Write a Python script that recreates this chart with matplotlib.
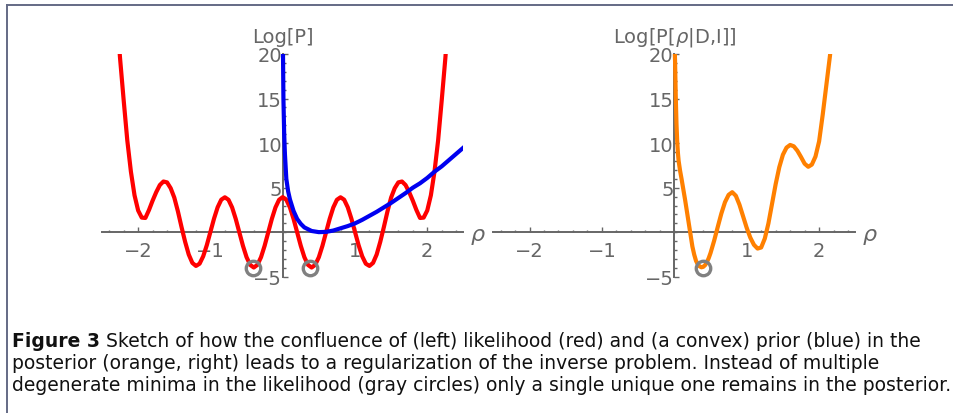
import matplotlib
matplotlib.use('Agg')
import matplotlib.pyplot as plt
from matplotlib.ticker import MultipleLocator
from matplotlib.lines import Line2D
import numpy as np

plt.rcParams['font.family'] = ['DejaVu Sans']
plt.rcParams['mathtext.fontset'] = 'custom'
plt.rcParams['mathtext.rm'] = 'DejaVu Sans'
plt.rcParams['mathtext.it'] = 'DejaVu Sans:italic'

# likelihood (red), sampled every 0.05 from -2.3 to 2.3
x_like = np.round(np.linspace(-2.3, 2.3, 93), 2)
y_like_half = [3.95, 3.65, 2.79, 1.51, 0.00, -1.51, -2.79, -3.65, -3.95, -3.65,
               -2.79, -1.51, 0.00, 1.51, 2.79, 3.65, 3.93, 3.66, 2.81, 1.54,
               0.05, -1.44, -2.69, -3.52, -3.77, -3.43, -2.49, -1.06, 0.60, 2.36,
               3.90, 4.95, 5.60, 5.70, 5.30, 4.50, 3.55, 2.50, 1.61, 1.65,
               2.45, 4.15, 6.80, 10.30, 14.80, 19.50, 25.00]
y_like = y_like_half[:0:-1] + y_like_half

# prior (blue)
x_prior = [0.003, 0.01, 0.02, 0.03, 0.05, 0.075, 0.1, 0.15, 0.2, 0.25, 0.3, 0.4,
           0.5, 0.6, 0.7, 0.8, 0.9, 1.0, 1.1, 1.2, 1.3, 1.4, 1.5, 1.6, 1.7, 1.8,
           1.9, 2.0, 2.1, 2.2, 2.3, 2.4, 2.5]
y_prior = [21.0, 15.0, 11.2, 8.9, 6.0, 4.6, 3.7, 2.4, 1.5, 0.95, 0.55, 0.15,
           0.02, 0.05, 0.2, 0.45, 0.7, 1.0, 1.4, 1.85, 2.3, 2.8, 3.3, 3.85, 4.4, 5.0,
           5.5, 6.1, 6.8, 7.4, 8.1, 8.8, 9.5]

# posterior (orange)
x_post = [0.003, 0.01, 0.02, 0.03, 0.04, 0.05, 0.06, 0.08, 0.10, 0.125, 0.15,
          0.175, 0.2, 0.225, 0.25, 0.275, 0.3, 0.325, 0.35, 0.375, 0.4, 0.425,
          0.45, 0.475, 0.5, 0.55, 0.6, 0.65, 0.7, 0.75, 0.8, 0.85, 0.9, 0.95,
          1.0, 1.05, 1.1, 1.15, 1.2, 1.25, 1.3, 1.35, 1.4, 1.45, 1.5, 1.55, 1.6,
          1.65, 1.7, 1.75, 1.8, 1.85, 1.9, 1.95, 2.0, 2.05, 2.1, 2.15, 2.2]
y_post = [21.0, 19.4, 15.3, 12.2, 10.2, 8.9, 8.0, 6.9, 6.0, 4.8, 3.6,
          2.3, 1.0, -0.3, -1.6, -2.5, -3.2, -3.6, -3.82, -3.92, -3.87, -3.68,
          -3.36, -2.90, -2.33, -0.95, 0.60, 2.11, 3.38, 4.20, 4.50, 4.10, 3.10, 1.80,
          0.50, -0.60, -1.40, -1.82, -1.70, -0.70, 1.00, 3.20, 5.40, 7.30, 8.70, 9.50, 9.80,
          9.65, 9.15, 8.45, 7.70, 7.35, 7.60, 8.50, 10.20, 13.20, 16.50, 19.80, 23.50]

# degenerate minima (gray circles)
min_like_x = [-0.41, 0.38]
min_like_y = [-4.04, -4.04]
min_post_x = [0.40]
min_post_y = [-4.04]

xtick_vals = [-2, -1, 1, 2]
xtick_labels = ['\u22122', '\u22121', '1', '2']
ytick_vals = [-5, 5, 10, 15, 20]
ytick_labels = ['\u22125', '5', '10', '15', '20']

caption_lines = [
    'Sketch of how the confluence of (left) likelihood (red) and (a convex) prior (blue) in the',
    'posterior (orange, right) leads to a regularization of the inverse problem. Instead of multiple',
    'degenerate minima in the likelihood (gray circles) only a single unique one remains in the posterior.',
]

W, H = 954, 414
gray = '#666666'

fig = plt.figure(figsize=(W / 100, H / 100), dpi=100)


def px_box(l, t, r, b):
    return [l / W, 1 - b / H, (r - l) / W, (b - t) / H]


def setup(ax, ylabel):
    ax.set_xlim(-2.5, 2.5)
    ax.set_ylim(-5, 20)
    ax.patch.set_visible(False)
    for s in ['top', 'right']:
        ax.spines[s].set_visible(False)
    for s in ['left', 'bottom']:
        ax.spines[s].set_position(('data', 0))
        ax.spines[s].set_color(gray)
        ax.spines[s].set_linewidth(1.4)
    ax.set_xticks(xtick_vals)
    ax.set_xticklabels(xtick_labels)
    ax.set_yticks(ytick_vals)
    ax.set_yticklabels(ytick_labels)
    ax.xaxis.set_minor_locator(MultipleLocator(0.2))
    ax.yaxis.set_minor_locator(MultipleLocator(1))
    ax.tick_params(which='both', direction='in', color=gray, width=1,
                   labelcolor=gray, labelsize=14)
    ax.tick_params(which='major', length=3.5)
    ax.tick_params(which='minor', length=1.8)
    ax.tick_params(axis='x', pad=6)
    ax.tick_params(axis='y', pad=0.5)
    ax.annotate(ylabel, xy=(0, 20), xytext=(0, 12.5), textcoords='offset points',
                ha='center', va='center', fontsize=14, color=gray,
                annotation_clip=False)
    ax.annotate('\u03c1', xy=(2.5, 0), xytext=(5, -1), textcoords='offset points',
                ha='left', va='center', fontsize=16, color=gray, style='italic',
                annotation_clip=False)


axL = fig.add_axes(px_box(102, 55, 463.4, 277.9))
axR = fig.add_axes(px_box(493.3, 55, 855.3, 277.9))
setup(axL, 'Log[P]')
setup(axR, 'Log[P[$\\mathit{\u03c1}$|D,I]]')

axL.plot(x_like, y_like, color='#ff0000', lw=3, zorder=3)
axL.plot(x_prior, y_prior, color='#0000f0', lw=3, zorder=4)
axL.plot(min_like_x, min_like_y, 'o', mfc='none', mec='#808080', ms=10.4, mew=2.4,
         clip_on=False, zorder=5)
axR.plot(x_post, y_post, color='#ff8000', lw=3, zorder=3)
axR.plot(min_post_x, min_post_y, 'o', mfc='none', mec='#808080', ms=10.4, mew=2.4,
         clip_on=False, zorder=5)

# frame around the figure
frame_c = '#646a85'
fig.add_artist(Line2D([7.5 / W, 1], [1 - 5.5 / H] * 2, color=frame_c, lw=1.4))
fig.add_artist(Line2D([7.5 / W] * 2, [0, 1 - 5.5 / H], color=frame_c, lw=1.4))

# caption: bold label + text, longest line fitted to the frame width
x0, x1 = 12, 947
baselines = [347, 369, 391]
fs = 12
t_bold = fig.text(x0 / W, 1 - baselines[0] / H, 'Figure 3', fontsize=fs,
                  weight='bold', va='baseline', color='#111111')
texts = [fig.text(0, 1 - b / H, s, fontsize=fs, va='baseline', color='#111111')
         for s, b in zip(caption_lines, baselines)]
r = fig.canvas.get_renderer()
gap = 0.45 * fs
wb = t_bold.get_window_extent(r).width
widths = [t.get_window_extent(r).width for t in texts]
widths[0] += wb + gap
scale = (x1 - x0) / max(widths)
fs2 = fs * scale
t_bold.set_fontsize(fs2)
for t in texts:
    t.set_fontsize(fs2)
wb = t_bold.get_window_extent(r).width
texts[0].set_x((x0 + wb + gap * scale) / W)
texts[1].set_x(x0 / W)
texts[2].set_x(x0 / W)

fig.savefig('out.png', dpi=100)
